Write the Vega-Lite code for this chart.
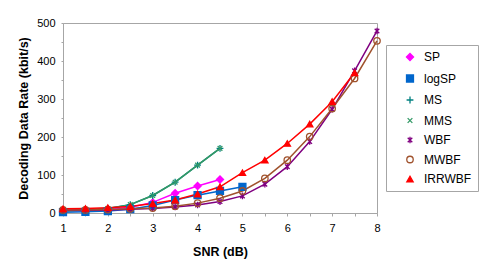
{
  "$schema": "https://vega.github.io/schema/vega-lite/v6.json",
  "width": 314,
  "height": 190,
  "autosize": {"type": "none"},
  "padding": {"left": 63, "top": 23, "right": 108, "bottom": 63},
  "background": "white",
  "config": {
    "font": "Liberation Sans",
    "view": {"stroke": "#A6A6A6", "strokeWidth": 1},
    "axis": {
      "labelFont": "Liberation Sans",
      "labelFontSize": 11,
      "labelColor": "#000000",
      "titleFont": "Liberation Sans",
      "titleFontSize": 12.5,
      "titleFontWeight": "bold",
      "titleColor": "#000000",
      "domainColor": "#A6A6A6",
      "tickColor": "#A6A6A6",
      "grid": false
    }
  },
  "data": {
    "values": [
      {"series": "SP", "snr": 1, "rate": 5}, {"series": "SP", "snr": 1.5, "rate": 6}, {"series": "SP", "snr": 2, "rate": 9}, {"series": "SP", "snr": 2.5, "rate": 15}, {"series": "SP", "snr": 3, "rate": 28}, {"series": "SP", "snr": 3.5, "rate": 52}, {"series": "SP", "snr": 4, "rate": 71}, {"series": "SP", "snr": 4.5, "rate": 88},
      {"series": "logSP", "snr": 1, "rate": 2}, {"series": "logSP", "snr": 1.5, "rate": 3}, {"series": "logSP", "snr": 2, "rate": 5}, {"series": "logSP", "snr": 2.5, "rate": 10}, {"series": "logSP", "snr": 3, "rate": 20}, {"series": "logSP", "snr": 3.5, "rate": 34}, {"series": "logSP", "snr": 4, "rate": 47}, {"series": "logSP", "snr": 4.5, "rate": 58}, {"series": "logSP", "snr": 5, "rate": 69},
      {"series": "MS", "snr": 1, "rate": 6}, {"series": "MS", "snr": 1.5, "rate": 8}, {"series": "MS", "snr": 2, "rate": 12}, {"series": "MS", "snr": 2.5, "rate": 22}, {"series": "MS", "snr": 3, "rate": 46}, {"series": "MS", "snr": 3.5, "rate": 81}, {"series": "MS", "snr": 4, "rate": 126}, {"series": "MS", "snr": 4.5, "rate": 170},
      {"series": "MMS", "snr": 1, "rate": 6}, {"series": "MMS", "snr": 1.5, "rate": 8}, {"series": "MMS", "snr": 2, "rate": 12}, {"series": "MMS", "snr": 2.5, "rate": 22}, {"series": "MMS", "snr": 3, "rate": 46}, {"series": "MMS", "snr": 3.5, "rate": 81}, {"series": "MMS", "snr": 4, "rate": 126}, {"series": "MMS", "snr": 4.5, "rate": 170},
      {"series": "WBF", "snr": 1, "rate": 7}, {"series": "WBF", "snr": 1.5, "rate": 7}, {"series": "WBF", "snr": 2, "rate": 8}, {"series": "WBF", "snr": 2.5, "rate": 10}, {"series": "WBF", "snr": 3, "rate": 12}, {"series": "WBF", "snr": 3.5, "rate": 16}, {"series": "WBF", "snr": 4, "rate": 21}, {"series": "WBF", "snr": 4.5, "rate": 30}, {"series": "WBF", "snr": 5, "rate": 45}, {"series": "WBF", "snr": 5.5, "rate": 76}, {"series": "WBF", "snr": 6, "rate": 122}, {"series": "WBF", "snr": 6.5, "rate": 188}, {"series": "WBF", "snr": 7, "rate": 273}, {"series": "WBF", "snr": 7.5, "rate": 374}, {"series": "WBF", "snr": 8, "rate": 479},
      {"series": "MWBF", "snr": 1, "rate": 8}, {"series": "MWBF", "snr": 1.5, "rate": 8}, {"series": "MWBF", "snr": 2, "rate": 9}, {"series": "MWBF", "snr": 2.5, "rate": 11}, {"series": "MWBF", "snr": 3, "rate": 13}, {"series": "MWBF", "snr": 3.5, "rate": 18}, {"series": "MWBF", "snr": 4, "rate": 26}, {"series": "MWBF", "snr": 4.5, "rate": 39}, {"series": "MWBF", "snr": 5, "rate": 58}, {"series": "MWBF", "snr": 5.5, "rate": 91}, {"series": "MWBF", "snr": 6, "rate": 139}, {"series": "MWBF", "snr": 6.5, "rate": 201}, {"series": "MWBF", "snr": 7, "rate": 275}, {"series": "MWBF", "snr": 7.5, "rate": 354}, {"series": "MWBF", "snr": 8, "rate": 453},
      {"series": "IRRWBF", "snr": 1, "rate": 11}, {"series": "IRRWBF", "snr": 1.5, "rate": 12}, {"series": "IRRWBF", "snr": 2, "rate": 14}, {"series": "IRRWBF", "snr": 2.5, "rate": 17}, {"series": "IRRWBF", "snr": 3, "rate": 25}, {"series": "IRRWBF", "snr": 3.5, "rate": 34}, {"series": "IRRWBF", "snr": 4, "rate": 50}, {"series": "IRRWBF", "snr": 4.5, "rate": 69}, {"series": "IRRWBF", "snr": 5, "rate": 106}, {"series": "IRRWBF", "snr": 5.5, "rate": 139}, {"series": "IRRWBF", "snr": 6, "rate": 183}, {"series": "IRRWBF", "snr": 6.5, "rate": 234}, {"series": "IRRWBF", "snr": 7, "rate": 293}, {"series": "IRRWBF", "snr": 7.5, "rate": 369}
    ]
  },
  "encoding": {
    "x": {
      "field": "snr", "type": "quantitative",
      "scale": {"domain": [1, 8], "nice": false, "zero": false},
      "axis": {
        "title": "SNR (dB)",
        "values": [1, 1.5, 2, 2.5, 3, 3.5, 4, 4.5, 5, 5.5, 6, 6.5, 7, 7.5, 8],
        "format": ".0f",
        "labelExpr": "datum.value % 1 === 0 ? datum.label : ''",
        "tickSize": 3, "labelPadding": 6, "titlePadding": 12, "labelFlush": false, "labelOverlap": false
      }
    },
    "y": {
      "field": "rate", "type": "quantitative",
      "scale": {"domain": [0, 500], "nice": false},
      "axis": {
        "title": "Decoding Data Rate (kbit/s)",
        "values": [0, 50, 100, 150, 200, 250, 300, 350, 400, 450, 500],
        "labelExpr": "datum.value % 100 === 0 ? datum.label : ''",
        "tickSize": 2, "labelPadding": 6, "titlePadding": 6, "labelOverlap": false
      }
    },
    "color": {
      "field": "series", "type": "nominal",
      "scale": {
        "domain": ["SP", "logSP", "MS", "MMS", "WBF", "MWBF", "IRRWBF"],
        "range": ["#FF00FF", "#0066CC", "#008080", "#339966", "#800080", "#A0522D", "#FF0000"]
      },
      "legend": {
        "title": null,
        "orient": "none",
        "legendX": 323,
        "legendY": 22,
        "strokeColor": "#A6A6A6",
        "fillColor": "white",
        "padding": 6,
        "labelFont": "Liberation Sans",
        "labelFontSize": 12,
        "labelColor": "#000000",
        "symbolSize": 49,
        "symbolOffset": 12,
        "labelOffset": 8,
        "rowPadding": 7.5,
        "symbolStrokeWidth": 1.3
      }
    }
  },
  "layer": [
    {
      "mark": {"type": "line", "strokeWidth": 1.5},
      "encoding": {"detail": {"field": "series"}}
    },
    {
      "mark": {"type": "point", "filled": false, "opacity": 1, "strokeWidth": 1.3},
      "encoding": {
        "shape": {
          "field": "series", "type": "nominal",
          "scale": {
            "domain": ["SP", "logSP", "MS", "MMS", "WBF", "MWBF", "IRRWBF"],
            "range": ["diamond", "square", "M-1,0H1M0,-1V1", "M-0.7,-0.7L0.7,0.7M-0.7,0.7L0.7,-0.7", "M-0.7,-0.7L0.7,0.7M-0.7,0.7L0.7,-0.7M0,-1V1", "circle", "triangle-up"]
          },
          "legend": null
        },
        "size": {
          "field": "series", "type": "nominal",
          "scale": {
            "domain": ["SP", "logSP", "MS", "MMS", "WBF", "MWBF", "IRRWBF"],
            "range": [50, 40, 55, 55, 60, 45, 40]
          },
          "legend": null
        },
        "fill": {
          "field": "series", "type": "nominal",
          "scale": {
            "domain": ["SP", "logSP", "MS", "MMS", "WBF", "MWBF", "IRRWBF"],
            "range": ["#FF00FF", "#0066CC", "transparent", "transparent", "transparent", "transparent", "#FF0000"]
          },
          "legend": null
        }
      }
    }
  ]
}
